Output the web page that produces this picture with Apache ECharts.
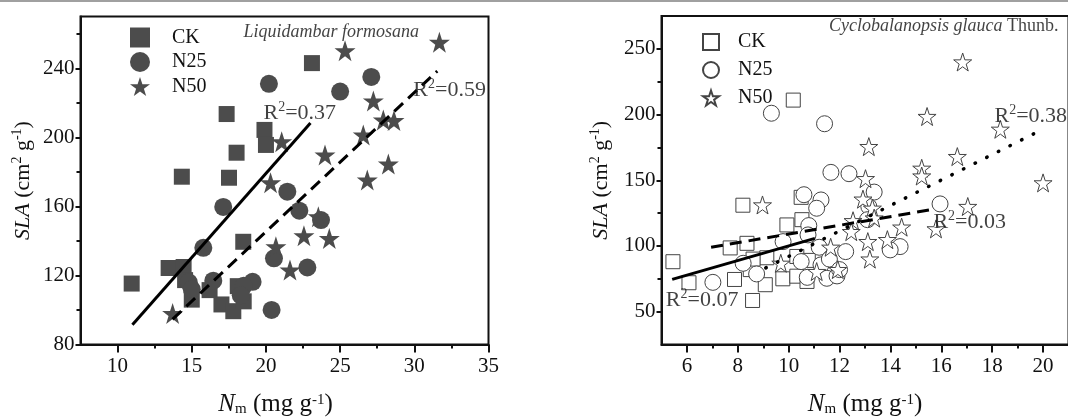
<!DOCTYPE html>
<html>
<head>
<meta charset="utf-8">
<script src="https://cdn.jsdelivr.net/npm/echarts@6/dist/echarts.min.js"></script>
<style>html,body{margin:0;padding:0;background:#fff;}#c{width:1068px;height:417px;}</style>
</head>
<body>
<div id="c"></div>
<script>
// ---------- DATA ----------
// Left panel: Liquidambar formosana  [Nm (mg g-1), SLA (cm2 g-1)]
const leftCK = [[23.1,243],[17.35,213.5],[19.9,204.3],[20.0,195.6],[18.02,191.1],[14.33,177.2],[17.51,176.6],[18.47,139.5],[10.95,115.3],[13.44,124.3],[14.45,124.9],[14.55,117.3],[15.0,106],[16.2,111.5],[17.0,103.2],[17.8,99.3],[18.1,113.8],[18.5,105]];
const leftN25 = [[20.2,231],[25.0,226.5],[27.1,235],[17.12,159.7],[21.44,168.5],[22.25,157.5],[23.71,152.1],[15.78,136],[20.54,129.9],[22.79,124.6],[16.45,117],[20.38,100],[14.8,116],[15.0,112],[19.1,116.3],[18.5,114],[18.3,108.5]];
const leftN50 = [[25.33,250.2],[31.69,255.1],[27.24,221.1],[27.91,210.0],[28.63,209.7],[26.56,201.4],[21.06,197.5],[23.98,189.8],[28.25,184.5],[26.83,175.3],[20.31,173.7],[23.53,154.0],[22.56,143.0],[24.27,141.4],[20.67,136.6],[21.62,123.1],[13.71,98.0]];
const leftFitCK = [[11.0,91.5],[23.0,208.3]];
const leftFitN50 = [[13.7,94.6],[31.55,238.4]];

// Right panel: Cyclobalanopsis glauca Thunb.
const rightCK = [[5.45,88],[6.08,72],[8.2,131],[10.18,211],[7.7,98.5],[8.36,102],[7.87,74.5],[8.58,58.5],[9.08,70.5],[9.77,75],[9.93,116],[10.49,137],[10.52,120],[10.32,77],[10.72,73],[10.32,92],[10.77,89],[9.14,91],[8.49,82],[8.6,90]];
const rightN25 = [[9.32,201],[11.41,193],[11.66,156],[12.37,155],[13.36,141],[15.95,132],[10.6,139],[11.27,135],[11.1,128.7],[10.79,115.5],[9.78,103.3],[10.76,108.4],[8.21,86.8],[8.74,78.7],[7.02,72.3],[10.49,88.1],[11.27,85.6],[11.2,99],[10.73,76.1],[11.5,75.4],[11.9,77.2],[12.24,95.7],[14.38,99.5],[13.99,97],[13.15,130],[13.1,120],[11.6,90],[12.0,82]];
const rightN50 = [[16.84,240],[15.44,198.5],[18.32,188.8],[13.15,175.6],[16.63,168],[15.23,159.1],[15.23,153.2],[13.02,151.2],[20.0,148],[8.97,131.2],[17.04,130],[12.92,135.6],[13.29,128.7],[15.79,113],[14.44,114.3],[12.53,119.2],[12.46,110.9],[13.11,103.3],[13.88,104.8],[13.19,90],[13.36,121.2],[11.65,99],[9.69,86.8],[11.1,80.5],[11.93,82]];
const rightFitCK = [[5.42,74.6],[11.03,105.8]];
const rightFitN25 = [[6.95,99.0],[15.78,128.2]];
const rightFitN50 = [[9.1,83.3],[19.65,185.5]];

// tick values
const leftXMajor = [10,15,20,25,30,35];
const leftXMinor = [12.5,17.5,22.5,27.5,32.5];
const leftYMajor = [80,120,160,200,240];
const leftYMinor = [100,140,180,220,260];
const rightXMajor = [6,8,10,12,14,16,18,20];
const rightXMinor = [7,9,11,13,15,17,19,21];
const rightYMajor = [50,100,150,200,250];
const rightYMinor = [75,125,175,225];

// annotation texts
const r2Left = ['0.37','0.59'];
const r2Right = ['0.38','0.03','0.07'];
const titleLeft = 'Liquidambar formosana';
const titleRightItalic = 'Cyclobalanopsis glauca';
const titleRightPlain = 'Thunb.';

// ---------- STYLE ----------
const FONT = 'Liberation Serif';
const INK = '#111';
const FILL = '#4c4c4c';
const STAR = 'path://M50,0 L61.8,35.1 L98.9,35.1 L69.1,56.7 L80.2,91.9 L50,70.5 L19.8,91.9 L30.9,56.7 L1.1,35.1 L38.2,35.1 Z';

const rich = {
  i: {fontStyle:'italic', fontFamily:FONT, fontSize:22, color:INK, lineHeight:26},
  t: {fontFamily:FONT, fontSize:22, color:INK, lineHeight:26},
  sup: {fontFamily:FONT, fontSize:14, color:INK, lineHeight:14, verticalAlign:'top'},
  sub: {fontFamily:FONT, fontSize:14, color:INK, lineHeight:14, verticalAlign:'bottom'},
  xi: {fontStyle:'italic', fontFamily:FONT, fontSize:25, color:INK, lineHeight:24},
  xt: {fontFamily:FONT, fontSize:25, color:INK, lineHeight:24},
  xsup: {fontFamily:FONT, fontSize:15, color:INK, lineHeight:12, verticalAlign:'top'},
  xsub: {fontFamily:FONT, fontSize:15, color:INK, lineHeight:12, verticalAlign:'bottom'},
  ti: {fontStyle:'italic', fontFamily:FONT, fontSize:18, color:INK, lineHeight:20},
  tn: {fontFamily:FONT, fontSize:18, color:INK, lineHeight:20}
};
const yNameStyle = {fontFamily:FONT, fontSize:22, color:INK, lineHeight:26, rich};
const yName = '{i|SLA}{t| (cm}{sup|2}{t| g}{sup|-1}{t|)}';
const xName = '{xi|N}{xsub|m}{xt| (mg g}{xsup|-1}{xt|)}';

function majorX(grid, min, max, vals, shift) {
  return {gridIndex:grid, type:'value', min, max, position:'bottom',
    name:xName, nameLocation:'middle', nameGap:48,
    nameTextStyle:{fontFamily:FONT, fontSize:25, color:INK, lineHeight:24, rich,
      padding: shift > 0 ? [0, 0, 0, shift] : [0, -shift, 0, 0]},
    axisLine:{show:true, onZero:false, lineStyle:{color:INK, width:2}},
    axisTick:{show:true, customValues:vals, length:8, lineStyle:{color:INK, width:2}},
    axisLabel:{customValues:vals, fontFamily:FONT, fontSize:21, color:INK, margin:11},
    splitLine:{show:false}};
}
function minorX(grid, min, max, vals) {
  return {gridIndex:grid, type:'value', min, max, position:'bottom',
    axisLine:{show:false, onZero:false},
    axisTick:{show:true, customValues:vals, length:4, lineStyle:{color:INK, width:2}},
    axisLabel:{show:false}, splitLine:{show:false}};
}
function majorY(grid, min, max, vals, gap) {
  return {gridIndex:grid, type:'value', min, max, position:'left',
    name:yName, nameLocation:'middle', nameGap:gap, nameTextStyle:yNameStyle,
    axisLine:{show:true, onZero:false, lineStyle:{color:INK, width:2}},
    axisTick:{show:true, customValues:vals, length:5, lineStyle:{color:INK, width:2}},
    axisLabel:{customValues:vals, fontFamily:FONT, fontSize:21, color:INK, margin:6},
    splitLine:{show:false}};
}
function minorY(grid, min, max, vals) {
  return {gridIndex:grid, type:'value', min, max, position:'left',
    axisLine:{show:false, onZero:false},
    axisTick:{show:true, customValues:vals, length:4, lineStyle:{color:INK, width:2}},
    axisLabel:{show:false}, splitLine:{show:false}};
}

function pts(name, data, xi, yi, symbol, size, filled) {
  return {name, type:'scatter', xAxisIndex:xi, yAxisIndex:yi, data, symbol, symbolSize:size,
    itemStyle: filled ? {color:FILL, borderColor:FILL, borderWidth:0, opacity:1}
                      : {color:'#fff', borderColor:'#444', borderWidth:1, opacity:1},
    emphasis:{disabled:true}, z:2};
}
function fit(data, xi, yi, type, width, cap) {
  return {type:'line', xAxisIndex:xi, yAxisIndex:yi, data, showSymbol:false, symbol:'none',
    lineStyle:{color:'#000', width, type, cap: cap || 'butt'}, silent:true, z:5};
}
function note(xi, yi, at, text, pos) {
  return {type:'scatter', xAxisIndex:xi, yAxisIndex:yi, symbolSize:1, silent:true, z:6,
    itemStyle:{color:'transparent'},
    data:[{value:at, label:{show:true, position:pos || 'right', distance:0, formatter:text, rich,
      fontFamily:FONT, fontSize:22, color:INK}}]};
}
const r2 = v => '{t|R}{sup|2}{t|=' + v + '}';

const option = {
  backgroundColor:'#fff',
  animation:false,
  graphic:[{type:'line', shape:{x1:0, y1:1, x2:1068, y2:1}, style:{stroke:'#808080', lineWidth:1.5}}],
  grid:[
    {left:80.5, top:16.5, width:408, height:328, show:true, borderColor:INK, borderWidth:2,
     backgroundColor:'transparent', containLabel:false, outerBoundsMode:'none'},
    {left:661.5, top:16, width:407, height:328.5, show:true, borderColor:INK, borderWidth:2,
     backgroundColor:'transparent', containLabel:false, outerBoundsMode:'none'}
  ],
  xAxis:[
    majorX(0, 7.5, 35, leftXMajor, -18), minorX(0, 7.5, 35, leftXMinor),
    majorX(1, 5, 21, rightXMajor, 0), minorX(1, 5, 21, rightXMinor)
  ],
  yAxis:[
    majorY(0, 80, 270, leftYMajor, 44), minorY(0, 80, 270, leftYMinor),
    majorY(1, 25, 275, rightYMajor, 47), minorY(1, 25, 275, rightYMinor)
  ],
  legend:[
    {left:130, top:27.5, orient:'vertical', padding:0, itemWidth:20, itemHeight:20, itemGap:4.5,
     data:['CK','N25','N50'], selectedMode:false,
     textStyle:{fontFamily:FONT, fontSize:20, color:INK, padding:[0,0,0,17], lineHeight:20}},
    {left:702, top:32, orient:'vertical', padding:0, itemWidth:16, itemHeight:16, itemGap:8,
     data:['CK ','N25 ','N50 '], selectedMode:false, formatter: n => n.trim(),
     textStyle:{fontFamily:FONT, fontSize:20, color:INK, padding:[0,0,0,14], lineHeight:16}}
  ],
  series:[
    pts('CK', leftCK, 0, 0, 'rect', 16, true),
    pts('N25', leftN25, 0, 0, 'circle', 18, true),
    pts('N50', leftN50, 0, 0, STAR, 21, true),
    fit(leftFitCK, 0, 0, 'solid', 3),
    fit(leftFitN50, 0, 0, [12,7], 3),
    note(0, 0, [19.8, 214], r2(r2Left[0])),
    note(0, 0, [29.9, 227.2], r2(r2Left[1])),
    note(0, 0, [24.4, 261], '{ti|' + titleLeft + '}', 'inside'),

    pts('CK ', rightCK, 2, 2, 'rect', 14, false),
    pts('N25 ', rightN25, 2, 2, 'circle', 16, false),
    pts('N50 ', rightN50, 2, 2, STAR, 18, false),
    fit(rightFitCK, 2, 2, 'solid', 3),
    fit(rightFitN25, 2, 2, [12,7], 3),
    fit(rightFitN50, 2, 2, [0.5,12.5], 3.5, 'round'),
    note(2, 2, [18.07, 199], r2(r2Right[0])),
    note(2, 2, [15.67, 117.8], r2(r2Right[1])),
    note(2, 2, [5.15, 58.9], r2(r2Right[2])),
    note(2, 2, [16.1, 267], '{ti|' + titleRightItalic + '}{tn| ' + titleRightPlain + '}', 'inside')
  ]
};
const chart = echarts.init(document.getElementById('c'), null, {renderer:'canvas'});
chart.setOption(option);
</script>
</body>
</html>
